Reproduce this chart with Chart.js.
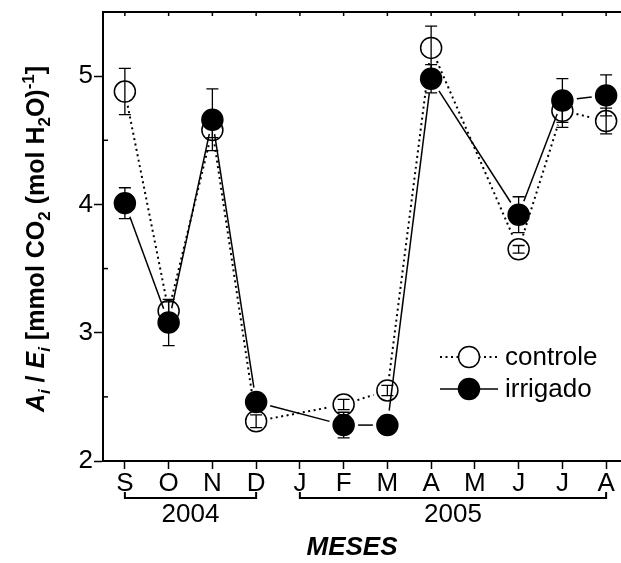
<!DOCTYPE html>
<html>
<head>
<meta charset="utf-8">
<script src="https://cdn.jsdelivr.net/npm/chart.js@4.4.0/dist/chart.umd.min.js"></script>
<style>
  html, body { margin: 0; padding: 0; background: #fff; overflow: hidden; }
  #quadro { width: 621px; height: 563px; overflow: hidden; }
</style>
</head>
<body>
<div id="quadro"><canvas id="grafico" width="640" height="563"></canvas></div>
<script>
// meses de set/2004 a ago/2005
const meses = ['S', 'O', 'N', 'D', 'J', 'F', 'M', 'A', 'M', 'J', 'J', 'A'];
const controle = [4.88, 3.17, 4.58, 2.31, null, 2.44, 2.55, 5.22, null, 3.65, 4.73, 4.65];
const controleErro = [0.18, 0.07, 0.06, 0.05, null, 0.04, 0.04, 0.17, null, 0.03, 0.13, 0.10];
const irrigado = [4.01, 3.08, 4.66, 2.46, null, 2.28, 2.28, 4.98, null, 3.92, 4.81, 4.85];
const irrigadoErro = [0.12, 0.18, 0.24, 0.03, null, 0.10, 0.02, 0.11, null, 0.14, 0.17, 0.16];
const anos = [
    { texto: '2004', de: 0, ate: 3 },
    { texto: '2005', de: 4, ate: 11 }
];
const minorY = [2.5, 3.5, 4.5];

const FONTE = "'Liberation Sans', Arial, sans-serif";
const RAIO = 10.5;
Chart.defaults.font.family = FONTE;
Chart.defaults.color = '#000';

// linhas entre os pontos, com um pequeno espaço antes de cada símbolo
const linhas = {
    id: 'linhas',
    beforeDatasetDraw(chart, args) {
        const ds = chart.data.datasets[args.index];
        const pts = args.meta.data.filter((p, i) => ds.data[i] != null);
        const folga = RAIO + 4;
        const ctx = chart.ctx;
        ctx.save();
        ctx.strokeStyle = '#000';
        ctx.lineWidth = ds.borderWidth;
        ctx.setLineDash(ds.borderDash || []);
        for (let k = 1; k < pts.length; k++) {
            const a = pts[k - 1], b = pts[k];
            const dx = b.x - a.x, dy = b.y - a.y;
            const len = Math.hypot(dx, dy);
            if (len <= 2 * folga) continue;
            const ux = dx / len, uy = dy / len;
            ctx.beginPath();
            ctx.moveTo(a.x + ux * folga, a.y + uy * folga);
            ctx.lineTo(b.x - ux * folga, b.y - uy * folga);
            ctx.stroke();
        }
        ctx.restore();
    }
};

// moldura: eixo superior, ticks internos e menores
const moldura = {
    id: 'moldura',
    afterDraw(chart) {
        const { ctx, chartArea: a, scales } = chart;
        ctx.save();
        ctx.strokeStyle = '#000';
        ctx.lineWidth = 2;
        ctx.beginPath();
        ctx.moveTo(a.left - 1, a.top);
        ctx.lineTo(chart.width, a.top);
        ctx.stroke();
        ctx.lineWidth = 1.5;
        meses.forEach((m, i) => {
            const x = scales.x.getPixelForValue(i);
            ctx.beginPath();
            ctx.moveTo(x, a.top);
            ctx.lineTo(x, a.top + 4);
            ctx.stroke();
        });
        minorY.forEach(v => {
            const y = scales.y.getPixelForValue(v);
            ctx.beginPath();
            ctx.moveTo(a.left, y);
            ctx.lineTo(a.left + 5, y);
            ctx.stroke();
        });
        ctx.restore();
    }
};

// barras de erro por cima dos símbolos
const barrasErro = {
    id: 'barrasErro',
    afterDatasetsDraw(chart) {
        const { ctx, scales } = chart;
        ctx.save();
        ctx.strokeStyle = '#000';
        ctx.lineWidth = 1.3;
        chart.data.datasets.forEach(ds => {
            ds.data.forEach((v, i) => {
                const e = ds.erros[i];
                if (v == null || e == null) return;
                const x = scales.x.getPixelForValue(i);
                const y1 = scales.y.getPixelForValue(v + e);
                const y2 = scales.y.getPixelForValue(v - e);
                ctx.beginPath();
                ctx.moveTo(x, y1); ctx.lineTo(x, y2);
                ctx.moveTo(x - 6, y1); ctx.lineTo(x + 6, y1);
                ctx.moveTo(x - 6, y2); ctx.lineTo(x + 6, y2);
                ctx.stroke();
            });
        });
        ctx.restore();
    }
};

// legenda dentro da área, anos, título X e título Y
const anotacoes = {
    id: 'anotacoes',
    afterDraw(chart) {
        const { ctx, scales } = chart;
        const sx = scales.x;
        ctx.save();
        ctx.fillStyle = '#000';
        ctx.strokeStyle = '#000';

        // legenda
        const itens = [
            { nome: 'controle', y: 357, cheio: false, tracejado: [2, 3.5], esp: 2 },
            { nome: 'irrigado', y: 389, cheio: true, tracejado: [], esp: 1.5 }
        ];
        itens.forEach(it => {
            ctx.lineWidth = it.esp;
            ctx.setLineDash(it.tracejado);
            ctx.beginPath();
            ctx.moveTo(440, it.y); ctx.lineTo(498, it.y);
            ctx.stroke();
            ctx.setLineDash([]);
            ctx.beginPath();
            ctx.arc(469, it.y, RAIO, 0, Math.PI * 2);
            ctx.fillStyle = it.cheio ? '#000' : '#fff';
            ctx.fill();
            ctx.lineWidth = 1.5;
            ctx.stroke();
            ctx.fillStyle = '#000';
            ctx.font = '26px ' + FONTE;
            ctx.textAlign = 'left';
            ctx.textBaseline = 'middle';
            ctx.fillText(it.nome, 505, it.y + 1);
        });

        // chaves dos anos
        ctx.lineWidth = 2;
        anos.forEach(a => {
            const x1 = sx.getPixelForValue(a.de);
            const x2 = sx.getPixelForValue(a.ate);
            const y = 498;
            ctx.beginPath();
            ctx.moveTo(x1, y - 6); ctx.lineTo(x1, y); ctx.lineTo(x2, y); ctx.lineTo(x2, y - 6);
            ctx.stroke();
            ctx.font = '26px ' + FONTE;
            ctx.textAlign = 'center';
            ctx.textBaseline = 'middle';
            ctx.fillText(a.texto, (x1 + x2) / 2, 515);
        });

        ctx.font = 'italic bold 26px ' + FONTE;
        ctx.textAlign = 'center';
        ctx.textBaseline = 'middle';
        ctx.fillText('MESES', 352, 548);

        // título do eixo Y com sub/sobrescritos
        const base = 25, peq = 17;
        const partes = [
            { t: 'A', it: true },
            { t: 'i', it: true, d: 6 },
            { t: ' / ' },
            { t: 'E', it: true },
            { t: 'i', it: true, d: 6 },
            { t: ' [mmol CO' },
            { t: '2', d: 6 },
            { t: ' (mol H' },
            { t: '2', d: 6 },
            { t: 'O)' },
            { t: '-1', d: -10 },
            { t: ']' }
        ];
        const fonte = p => (p.it ? 'italic ' : '') + 'bold ' + (p.d ? peq : base) + 'px ' + FONTE;
        let total = 0;
        partes.forEach(p => { ctx.font = fonte(p); p.w = ctx.measureText(p.t).width; total += p.w; });
        ctx.translate(44, 239);
        ctx.rotate(-Math.PI / 2);
        ctx.textAlign = 'left';
        ctx.textBaseline = 'alphabetic';
        let x = -total / 2;
        partes.forEach(p => {
            ctx.font = fonte(p);
            ctx.fillText(p.t, x, p.d || 0);
            x += p.w;
        });
        ctx.restore();
    }
};

new Chart(document.getElementById('grafico'), {
    type: 'line',
    data: {
        labels: meses,
        datasets: [
            {
                label: 'irrigado',
                data: irrigado,
                erros: irrigadoErro,
                order: 0,
                showLine: false,
                borderColor: '#000',
                borderWidth: 1.5,
                pointRadius: RAIO,
                pointBackgroundColor: '#000',
                pointBorderColor: '#000',
                pointBorderWidth: 1.5
            },
            {
                label: 'controle',
                data: controle,
                erros: controleErro,
                order: 1,
                showLine: false,
                borderColor: '#000',
                borderWidth: 2,
                borderDash: [2, 3.5],
                pointRadius: RAIO,
                pointBackgroundColor: '#fff',
                pointBorderColor: '#000',
                pointBorderWidth: 1.5
            }
        ]
    },
    options: {
        responsive: false,
        animation: false,
        events: [],
        layout: { padding: { top: 7, right: 10, left: 0, bottom: 0 } },
        plugins: { legend: { display: false }, tooltip: { enabled: false } },
        scales: {
            x: {
                type: 'category',
                offset: true,
                grid: { drawOnChartArea: false, offset: false, tickLength: 8, tickWidth: 1.5, color: '#000' },
                border: { display: true, width: 2, color: '#000' },
                ticks: { font: { size: 26, lineHeight: 1 }, padding: 2, maxRotation: 0, autoSkip: false, color: '#000' },
                afterFit: s => { s.height = 102; s.paddingLeft = 0; s.paddingRight = 0; }
            },
            y: {
                min: 2,
                max: 5.5,
                grid: { drawOnChartArea: false, tickLength: 9, tickWidth: 1.5, color: '#000' },
                border: { display: true, width: 2, color: '#000' },
                ticks: { stepSize: 1, includeBounds: false, font: { size: 26 }, padding: 1, color: '#000' },
                afterFit: s => { s.width = 103; s.paddingTop = 0; s.paddingBottom = 0; }
            }
        }
    },
    plugins: [linhas, moldura, barrasErro, anotacoes]
});
</script>
</body>
</html>
